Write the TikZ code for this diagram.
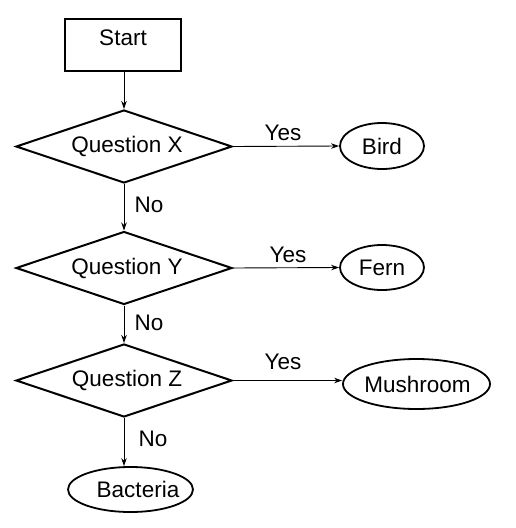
\documentclass[tikz,border=0pt]{standalone}
\usepackage{fontspec}
\setmainfont{Liberation Sans}
\usetikzlibrary{shapes.geometric,arrows.meta}
\begin{document}
\begin{tikzpicture}[x=1pt,y=-1pt,
  every node/.style={font=\fontsize{22.5}{26}\selectfont, inner sep=0pt},
  startbox/.style={draw, line width=2pt, minimum width=116pt, minimum height=52pt},
  decision/.style={draw, diamond, line width=2pt, aspect=2.96, minimum width=216pt, minimum height=73pt},
  leaf/.style={draw, ellipse, line width=1.8pt, inner sep=-25pt},
  conn/.style={line width=0.9pt, -{Stealth[length=8pt,width=5.5pt]}},
  lbl/.style={}
]
\useasboundingbox (0,0) rectangle (515,528);
\node[startbox] (start) at (123,45) {\raisebox{-1pt}{\smash{Start}}};
\node[decision] (qx) at (124,146.5) {\hspace{6pt}Question X};
\node[decision] (qy) at (124,268) {\hspace{6pt}Question Y};
\node[decision] (qz) at (124,380.5) {\hspace{6pt}Question Z};
\node[leaf, minimum width=84pt, minimum height=46pt] (bird) at (382,146) {Bird};
\node[leaf, minimum width=84pt, minimum height=45pt] (fern) at (382,267.5) {Fern};
\node[leaf, minimum width=147pt, minimum height=50pt] (mush) at (416.5,384) {\hspace{2pt}Mushroom};
\node[leaf, minimum width=125pt, minimum height=45pt] (bact) at (130.5,489.5) {\hspace{15pt}Bacteria};
\draw[conn] (start.south -| qx.north) -- (qx.north);
\draw[conn] (qx.east) -- (bird.west);
\draw[conn] (qx.south) -- (qy.north);
\draw[conn] (qy.east) -- (fern.west);
\draw[conn] (qy.south) -- (qz.north);
\draw[conn] (qz.east) -- (qz.east -| mush.west);
\draw[conn] (qz.south) -- (qz.south |- bact.north);
\node[lbl] (y1) at (283,133) {Yes};
\node[lbl] (y2) at (288,255) {Yes};
\node[lbl] (y3) at (283,362) {Yes};
\node[lbl] (n1) at (149,205) {No};
\node[lbl] (n2) at (149,323) {No};
\node[lbl] (n3) at (153,439) {No};
\end{tikzpicture}
\end{document}
